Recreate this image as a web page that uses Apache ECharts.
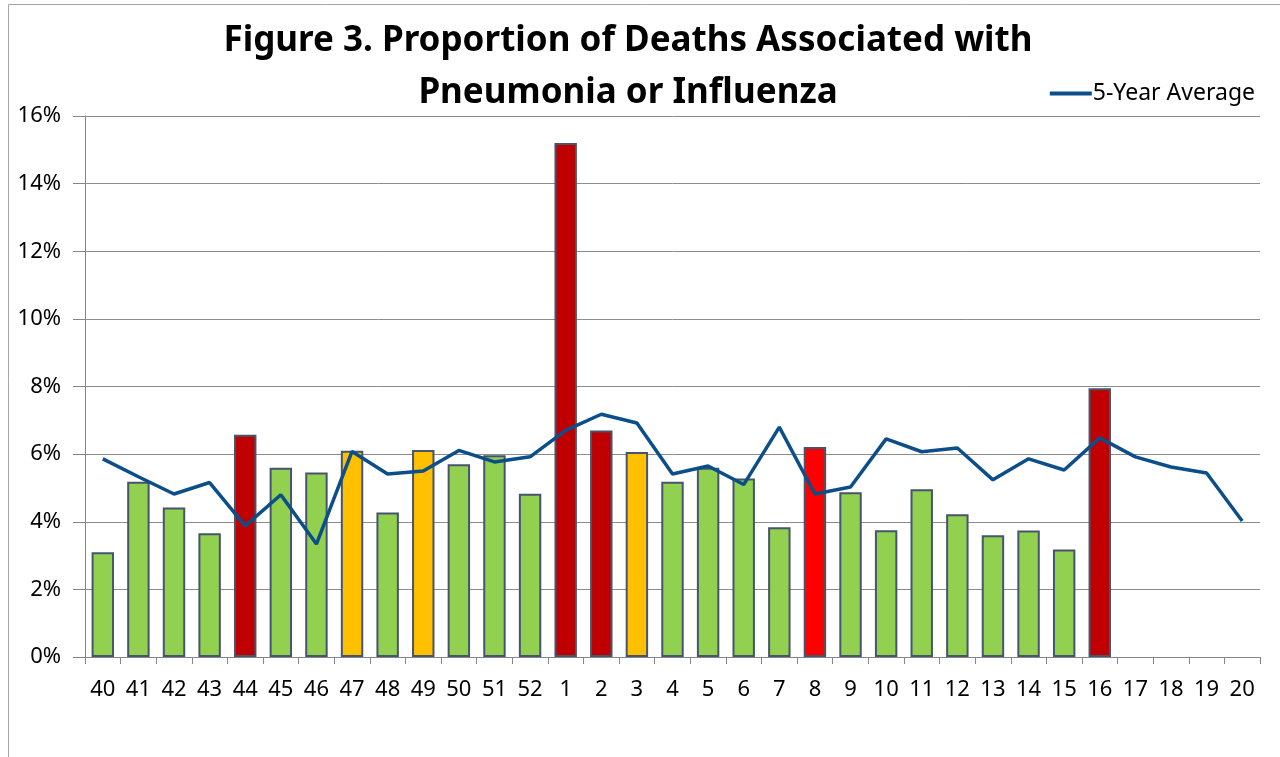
<!DOCTYPE html>
<html>
<head>
<meta charset="utf-8">
<script src="https://cdn.jsdelivr.net/npm/echarts@6/dist/echarts.min.js"></script>
<style>
  html, body { margin: 0; padding: 0; background: #fff; }
  #chart { width: 1280px; height: 757px; }
</style>
</head>
<body>
<div id="chart"></div>
<script>
// weeks of the season
var weeks = ['40','41','42','43','44','45','46','47','48','49','50','51','52',
             '1','2','3','4','5','6','7','8','9','10','11','12','13','14','15','16',
             '17','18','19','20'];

// proportion of deaths (%) per week
var pnIDeaths = [3.1, 5.18, 4.42, 3.66, 6.57, 5.6, 5.46, 6.1, 4.27, 6.12, 5.7, 5.97, 4.83,
                 15.2, 6.7, 6.06, 5.18, 5.6, 5.28, 3.84, 6.21, 4.87, 3.75, 4.96, 4.22, 3.6, 3.74, 3.18, 7.95,
                 null, null, null, null];

// alert level of each week's bar
var levels = ['low','low','low','low','high','low','low','mid','low','mid','low','low','low',
              'high','high','mid','low','low','low','low','peak','low','low','low','low','low','low','low','high',
              null, null, null, null];

// 5-year average (%)
var fiveYearAvg = [5.86, 5.33, 4.82, 5.16, 3.88, 4.8, 3.34, 6.08, 5.41, 5.5, 6.11, 5.77, 5.92,
                   6.7, 7.18, 6.92, 5.41, 5.65, 5.1, 6.8, 4.82, 5.03, 6.45, 6.07, 6.18, 5.24, 5.86, 5.53, 6.48,
                   5.92, 5.62, 5.44, 4.02];

var levelColors = { low: '#92D050', mid: '#FFC000', high: '#C00000', peak: '#FF0000' };

var myChart = echarts.init(document.getElementById('chart'));

var barData = pnIDeaths.map(function (v, i) {
    return {
        value: v,
        itemStyle: { color: levels[i] ? levelColors[levels[i]] : '#92D050' }
    };
});

var font = '"Noto Sans", sans-serif';

var option = {
    backgroundColor: '#fff',
    animation: false,
    graphic: [{
        type: 'polyline',
        shape: { points: [[1280, 4.5], [8.5, 4.5], [8.5, 757]] },
        style: { stroke: '#a6a6a6', lineWidth: 1, fill: null }
    }],
    title: {
        text: 'Figure 3. Proportion of Deaths Associated with\nPneumonia or Influenza',
        left: 623,
        top: 10,
        textAlign: 'center',
        textStyle: {
            fontFamily: font,
            fontWeight: 'bold',
            fontSize: 35,
            lineHeight: 52,
            color: '#000'
        }
    },
    legend: {
        right: 20,
        top: 77,
        data: ['5-Year Average'],
        itemWidth: 42,
        itemHeight: 4,
        itemGap: 4,
        icon: 'rect',
        textStyle: { fontFamily: font, fontSize: 23, color: '#000', padding: [0, 0, 0, -4] }
    },
    grid: {
        left: 85,
        right: 20,
        top: 116,
        bottom: 100
    },
    xAxis: {
        type: 'category',
        data: weeks,
        boundaryGap: true,
        axisLine: { lineStyle: { color: '#868686', width: 1 } },
        axisTick: { show: true, length: 7, interval: 0, lineStyle: { color: '#868686' } },
        axisLabel: {
            interval: 0,
            margin: 22,
            fontFamily: font,
            fontSize: 22,
            color: '#000'
        }
    },
    yAxis: {
        type: 'value',
        min: 0,
        max: 16,
        interval: 2,
        axisLine: { show: true, lineStyle: { color: '#868686', width: 1 } },
        axisTick: { show: true, length: 12, lineStyle: { color: '#868686' } },
        axisLabel: {
            formatter: '{value}%',
            margin: 24,
            fontFamily: font,
            fontSize: 22,
            color: '#000'
        },
        splitLine: { lineStyle: { color: '#8c8c8c', width: 1 } }
    },
    series: [
        {
            name: 'Proportion',
            type: 'bar',
            barWidth: '63%',
            data: barData,
            itemStyle: {
                borderColor: '#46556e',
                borderWidth: 2
            }
        },
        {
            name: '5-Year Average',
            type: 'line',
            data: fiveYearAvg,
            symbol: 'none',
            lineStyle: { color: '#0B4E8A', width: 3.5 },
            itemStyle: { color: '#0B4E8A' }
        }
    ]
};

myChart.setOption(option);
</script>
</body>
</html>
